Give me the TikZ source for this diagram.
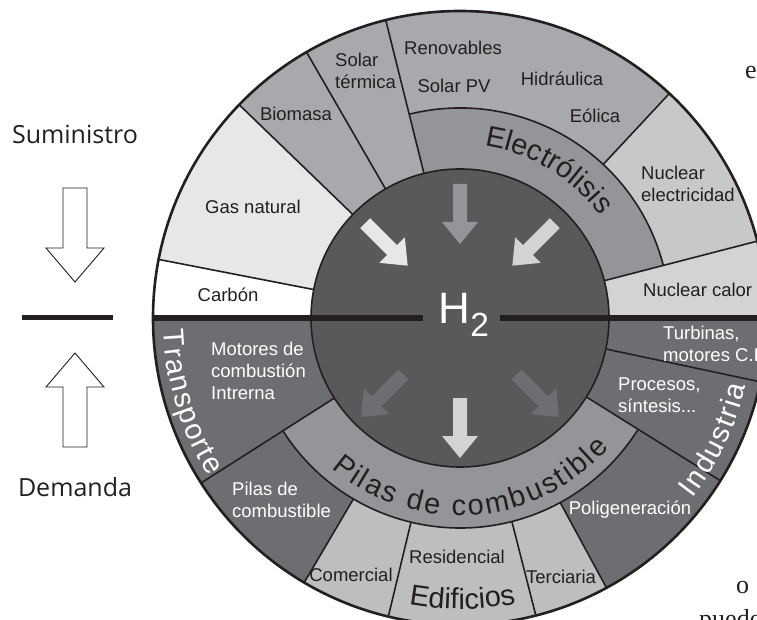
\documentclass[tikz,border=0pt]{standalone}
\usepackage{fontspec}
\usetikzlibrary{decorations.text}
\newfontfamily\labelfont{Liberation Sans}
\newfontfamily\sidefont{Open Sans}
\newfontfamily\bookfont{Liberation Serif}
\newcommand{\bigsans}{\labelfont\fontsize{29}{30}\selectfont}
\definecolor{ink}{HTML}{231F20}
\definecolor{palegray}{HTML}{E6E7E8}
\definecolor{midgray}{HTML}{A7A9AC}
\definecolor{ringgray}{HTML}{939598}
\definecolor{nucgray}{HTML}{C7C8CA}
\definecolor{lightgray}{HTML}{D1D3D4}
\definecolor{bldgray}{HTML}{BCBEC0}
\definecolor{deepgray}{HTML}{6D6E71}
\definecolor{hubgray}{HTML}{58595B}

\begin{document}
\begin{tikzpicture}[x=1pt,y=1pt,
    lbl/.style={font=\labelfont\fontsize{18.5}{22}\selectfont,text=ink,inner sep=0pt},
    one/.style={lbl,text height=13.2pt,text depth=0pt},
    multi/.style={lbl,align=left,anchor=west},
    side/.style={font=\sidefont\fontsize{25}{27}\selectfont,text=ink,inner sep=0pt,text height=17.5pt,text depth=0pt},
    book/.style={font=\bookfont\fontsize{26}{28}\selectfont,text=ink,inner sep=0pt,anchor=base west},
    sepline/.style={draw=ink,line width=1.6pt},
    hollow/.style={draw=ink,fill=white,line width=0.9pt,line join=miter}]
\useasboundingbox (0,0) rectangle (757,619);

\node[side] (sum) at (75,484) {Suministro};
\node[side] (dem) at (75,131) {Demanda};
\draw[hollow] (63,431) -- (87,431) -- (87,371) -- (104,371) -- (75,337) -- (46,371) -- (63,371) -- cycle;
\draw[hollow] (63,172) -- (87,172) -- (87,232) -- (104,232) -- (75,266) -- (46,232) -- (63,232) -- cycle;
\draw[ink,line width=5pt] (22,301) -- (113,301);

\begin{scope}[shift={(460,301)}]
  \foreach \a/\b/\ri/\ro/\col in {169/180/149/307/white, 136/169/149/307/palegray,
      120/136/149/307/midgray, 104/120/149/307/midgray, 47/104/210/307/midgray,
      14.5/104/149/210/ringgray, 14.5/47/210/307/nucgray, 0/14.5/149/307/lightgray,
      180/212.5/149/307/deepgray, 212.5/239.5/210/307/deepgray, 212.5/328/149/210/ringgray,
      239.5/256.5/210/307/bldgray, 256.5/284.3/210/307/bldgray, 284.3/298.5/210/307/bldgray,
      298.5/328/210/307/deepgray, 328/348/149/307/deepgray, 348/360/149/307/deepgray}
    \fill[\col] (\a:\ri) arc (\a:\b:\ri) -- (\b:\ro) arc (\b:\a:\ro) -- cycle;
  \foreach \a/\ri in {169/149, 136/149, 120/149, 104/149, 47/210, 14.5/149, 348/149,
      328/149, 298.5/210, 284.3/210, 256.5/210, 239.5/210, 212.5/149}
    \draw[sepline] (\a:\ri) -- (\a:307);
  \draw[sepline] (104:210) arc (104:14.5:210);
  \draw[sepline] (212.5:210) arc (212.5:328:210);
  \draw[sepline,fill=hubgray] (0,0) circle (149);
  \draw[ink,line width=2.6pt] (0,0) circle (307);
  \draw[ink,line width=5.5pt] (180:307) -- (-37,0) (40,0) -- (0:307);
  \foreach \ang/\col in {135/palegray, 90/ringgray, 45/lightgray}
    \fill[\col,shift={(\ang:134)},rotate=\ang+180] (0,-7) -- (38,-7) -- (38,-18) -- (60,0) -- (38,18) -- (38,7) -- (0,7) -- cycle;
  \foreach \ang/\col in {225/deepgray, 270/lightgray, 315/deepgray}
    \fill[\col,shift={(\ang:80)},rotate=\ang] (0,-7) -- (38,-7) -- (38,-18) -- (60,0) -- (38,18) -- (38,7) -- (0,7) -- cycle;

  \path[decorate,decoration={text along path,text align=center,
      text={|\bigsans\color{ink}|Electrólisis}}] (104:173.5) arc (104:14:173.5);
  \path[decorate,decoration={text along path,text align=fit to path,
      text={|\bigsans\color{ink}|Pilas de combustible}}] (229.4:197.5) arc (229.4:319:197.5);
  \path[decorate,decoration={text along path,text align=fit to path,
      text={|\bigsans\color{white}|Transporte}}] (182.3:297) arc (182.3:212.2:297);
  \path[decorate,decoration={text along path,text align=fit to path,
      text={|\bigsans\color{white}|Industria}}] (322.2:294) arc (322.2:346.6:294);
  \path[decorate,decoration={text along path,text align=center,
      text={|\bigsans\color{ink}|Edificios}}] (240:291) arc (240:301:291);
\end{scope}

\node[font=\labelfont\fontsize{44}{44}\selectfont,text=white,anchor=base west,inner sep=0pt] (htwo)
  at (438.5,295) {H\raisebox{-12pt}{\fontsize{33.5}{34}\selectfont 2}};

\node[one] (carbon) at (228,324) {Carbón};
\node[one] (gas) at (253,412) {Gas natural};
\node[one] (biomasa) at (296,505) {Biomasa};
\node[multi] (solarter) at (335,548) {Solar\\térmica};
\node[one] (renov) at (453,571) {Renovables};
\node[one] (solarpv) at (454,533) {Solar PV};
\node[one] (hidra) at (562,540) {Hidráulica};
\node[one] (eolica) at (595,503) {Eólica};
\node[multi] (nucelec) at (641,435) {Nuclear\\electricidad};
\node[one,anchor=west] (nuccal) at (643,329) {Nuclear calor};
\node[multi,text=white] (motores) at (211,248) {Motores de\\combustión\\Intrerna};
\node[multi,text=white] (pilas) at (232,119) {Pilas de\\combustible};
\node[one] (comercial) at (351,44) {Comercial};
\node[one] (resid) at (457,62) {Residencial};
\node[one] (terc) at (561,42) {Terciaria};
\node[one,text=white] (polig) at (630,111) {Poligeneración};
\node[multi,text=white] (procesos) at (618,224) {Procesos,\\síntesis...};
\node[multi,text=white] (turbinas) at (663,275) {Turbinas,\\motores C.I.};

\node[book] (frag1) at (745,540.5) {e};
\node[book] (frag2) at (736,26) {o};
\node[book] (frag3) at (699,-8) {puede};
\end{tikzpicture}
\end{document}
